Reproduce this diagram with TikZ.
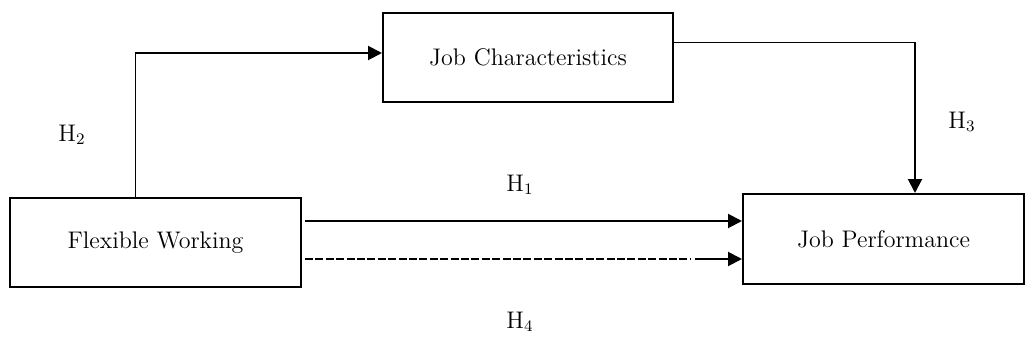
\documentclass[tikz,border=0pt]{standalone}
\usetikzlibrary{arrows.meta}
\begin{document}
\begin{tikzpicture}[x=0.5pt,y=-0.5pt,
  box/.style={draw,line width=1pt,rectangle,inner sep=0pt,font=\fontsize{12}{14}\selectfont},
  arr/.style={line width=1pt,-{Triangle[length=7pt,width=7pt]}},
  thinline/.style={line width=0.5pt},
  dashline/.style={line width=1pt,dash pattern=on 4pt off 1.2pt},
  lab/.style={font=\fontsize{12}{14}\selectfont,inner sep=0pt}]
\useasboundingbox (0,0) rectangle (1025,343);
\node[box,minimum width=145pt,minimum height=44.5pt] (jc) at (528,57.5) {Job Characteristics};
\node[box,minimum width=145.5pt,minimum height=44.5pt] (fw) at (155.5,242.5) {Flexible Working};
\node[box,minimum width=140.5pt,minimum height=45pt] (jp) at (883.5,239) {Job Performance};
% H2
\coordinate (c2) at (135,53);
\draw[thinline] (fw.north -| c2) -- (c2);
\draw[arr] (c2) -- (c2 -| jc.west);
% H3
\coordinate (c3) at (915,42);
\draw[thinline] (c3 -| jc.east) -- (c3);
\draw[arr] (c3) -- (c3 |- jp.north);
% H1
\coordinate (h1) at (305,221);
\draw[arr] (h1) -- (h1 -| jp.west);
% H4 dashed
\coordinate (h4a) at (305,259);
\coordinate (h4b) at (690,259);
\coordinate (h4c) at (695,259);
\draw[dashline] (h4a) -- (h4b);
\draw[arr] (h4c) -- (h4c -| jp.west);
% labels
\node[lab] (l2) at (72,135) {H\textsubscript{2}};
\node[lab] (l1) at (520,185) {H\textsubscript{1}};
\node[lab] (l3) at (962,122) {H\textsubscript{3}};
\node[lab] (l4) at (520,322) {H\textsubscript{4}};
\end{tikzpicture}
\end{document}
